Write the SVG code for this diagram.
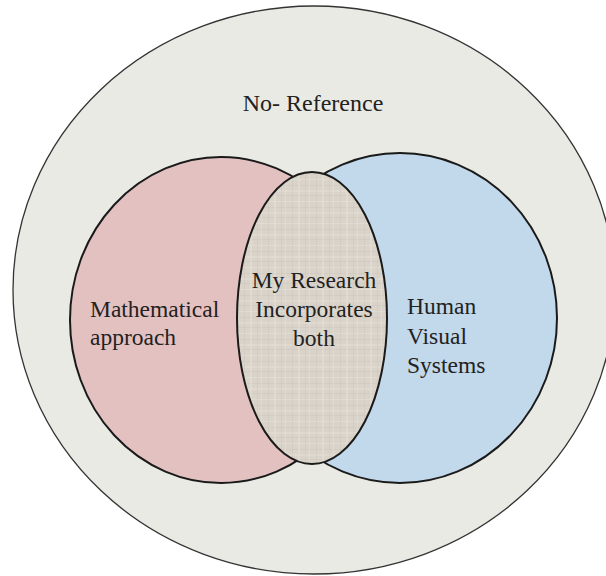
<svg xmlns="http://www.w3.org/2000/svg" width="606" height="576" viewBox="0 0 606 576">
  <style>
    .lbl { font-family: "Liberation Serif", "Times New Roman", serif; font-size: 23.5px; fill: #222222; }
    .set { stroke: #1a1a1a; stroke-width: 2; }
  </style>
  <defs>
    <pattern id="fabric" width="24" height="22" patternUnits="userSpaceOnUse">
      <rect width="24" height="22" fill="#dad3c9"/>
      <rect x="0" y="3" width="24" height="1" fill="#e5e0d7" opacity="0.7"/>
      <rect x="0" y="9" width="24" height="1" fill="#cdc8c0" opacity="0.6"/>
      <rect x="0" y="14" width="24" height="2" fill="#e3ded5" opacity="0.6"/>
      <rect x="0" y="19" width="24" height="1" fill="#cbc6bf" opacity="0.5"/>
      <rect x="4" y="0" width="1" height="22" fill="#cbc7c0" opacity="0.5"/>
      <rect x="10" y="0" width="2" height="22" fill="#e4dfd6" opacity="0.6"/>
      <rect x="17" y="0" width="1" height="22" fill="#ccc8c1" opacity="0.5"/>
      <rect x="21" y="0" width="1" height="22" fill="#e2ddd4" opacity="0.6"/>
    </pattern>
  </defs>
  <rect width="606" height="576" fill="#ffffff"/>
  <g id="no-reference">
    <ellipse cx="314" cy="290" rx="301" ry="284" fill="#eaeae4" stroke="#333333" stroke-width="1.3"/>
    <text class="lbl" x="313" y="111" text-anchor="middle" style="font-size:24px">No- Reference</text>
  </g>
  <g id="mathematical">
    <ellipse class="set" cx="221" cy="320" rx="151" ry="163" fill="#e4c1c1"/>
    <text class="lbl" x="90" y="317">Mathematical</text>
    <text class="lbl" x="90" y="345">approach</text>
  </g>
  <g id="hvs">
    <ellipse class="set" cx="400" cy="318" rx="157" ry="165" fill="#c2d8eb"/>
    <text class="lbl" x="407" y="314">Human</text>
    <text class="lbl" x="407" y="344">Visual</text>
    <text class="lbl" x="407" y="373">Systems</text>
  </g>
  <g id="both">
    <ellipse class="set" cx="312" cy="318" rx="75" ry="146" fill="url(#fabric)"/>
    <text class="lbl" x="314" y="288" text-anchor="middle">My Research</text>
    <text class="lbl" x="314" y="317" text-anchor="middle">Incorporates</text>
    <text class="lbl" x="314" y="346" text-anchor="middle">both</text>
  </g>
  <g id="connectors"/>
</svg>
